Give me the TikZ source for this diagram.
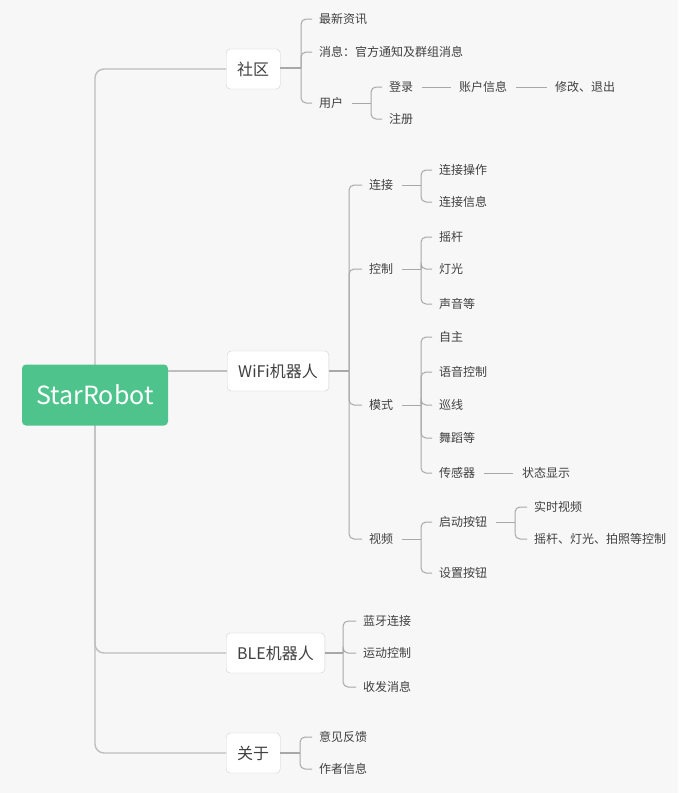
\documentclass[tikz,border=0pt]{standalone}
\usepackage{fontspec}
\setmainfont{Noto Sans CJK SC}
\usepackage{xcolor}
\usetikzlibrary{positioning}
\usetikzlibrary{calc}

\definecolor{bggray}{HTML}{F7F7F7}
\definecolor{linegray}{HTML}{A8A8A8}
\definecolor{trunkgray}{HTML}{BEBEBE}
\definecolor{boxline}{HTML}{CFCFCF}
\definecolor{textgray}{HTML}{404040}
\definecolor{rootgreen}{HTML}{4EC48C}

\tikzset{
  rootbox/.style={fill=rootgreen, text=white, rounded corners=4pt,
    minimum width=146pt, minimum height=61pt, inner sep=0pt,
    font=\fontsize{25}{28}\selectfont},
  mainbox/.style={draw=boxline, fill=white, rounded corners=4pt, anchor=west,
    minimum height=40pt, inner xsep=11pt, text=textgray,
    font=\fontsize{16}{18}\selectfont},
  leaf/.style={anchor=west, inner sep=0pt, text=textgray,
    font=\fontsize{12}{14}\selectfont},
  link/.style={draw=linegray, line width=1pt},
  elbow/.style={rounded corners=5pt},
  trunk/.style={draw=trunkgray, line width=1.4pt, rounded corners=9pt}
}

\begin{document}
\begin{tikzpicture}[x=1pt,y=-1pt]
\fill[bggray] (0,0) rectangle (678,793);
\useasboundingbox (0,0) rectangle (678,793);

% main branches
\node[mainbox] (shequ) at (226,69) {社区};
\node[mainbox] (wifi) at (227,371) {WiFi机器人};
\node[mainbox] (ble) at (226,653) {BLE机器人};
\node[mainbox] (guanyu) at (226,753) {关于};

% trunk
\coordinate (tk) at (95,0);
\draw[trunk] (shequ.west) -| (tk |- guanyu.west) -- (guanyu.west);
\draw[trunk] (tk |- wifi.west) |- (ble.west);
\node[rootbox] (root) at (95,395) {StarRobot};
\draw[trunk] (root.east |- wifi.west) -- (wifi.west);

% 社区
\node[leaf] (zuixin) at (319,19) {最新资讯};
\node[leaf] (xiaoxi) at (319,52) {消息：官方通知及群组消息};
\node[leaf] (yonghu) at (319,103) {用户};
\node[leaf] (denglu) at (389,87) {登录};
\node[leaf] (zhuce) at (389,119) {注册};
\node[leaf] (zhanghu) at (459,87) {账户信息};
\node[leaf] (xiugai) at (555,87) {修改、退出};

\coordinate (sqs) at (301,68);
\draw[link,line width=1.5pt] (shequ.east |- sqs) -- (sqs);
\foreach \c in {zuixin,xiaoxi,yonghu}
  \draw[link,elbow] (sqs) |- ([xshift=-7pt]\c.west);
\coordinate (yhs) at (371,103);
\draw[link] ([xshift=9pt]yonghu.east) -- (yhs);
\foreach \c in {denglu,zhuce}
  \draw[link,elbow] (yhs) |- ([xshift=-7pt]\c.west);
\draw[link] ([xshift=9pt]denglu.east) -- ([xshift=-8pt]zhanghu.west);
\draw[link] ([xshift=9pt]zhanghu.east) -- ([xshift=-8pt]xiugai.west);

% WiFi机器人
\node[leaf] (lianjie) at (369,185) {连接};
\node[leaf] (kongzhi) at (369,269) {控制};
\node[leaf] (moshi) at (369,405) {模式};
\node[leaf] (shipin) at (369,539) {视频};

\node[leaf] (ljcz) at (439,170) {连接操作};
\node[leaf] (ljxx) at (439,202) {连接信息};
\node[leaf] (yaogan) at (439,237) {摇杆};
\node[leaf] (dengguang) at (439,269) {灯光};
\node[leaf] (shengyin) at (439,304) {声音等};
\node[leaf] (zizhu) at (439,337) {自主};
\node[leaf] (yuyin) at (439,372) {语音控制};
\node[leaf] (xunxian) at (439,405) {巡线};
\node[leaf] (wudao) at (439,438) {舞蹈等};
\node[leaf] (chuangan) at (439,473) {传感器};
\node[leaf] (zhuangtai) at (522,473) {状态显示};
\node[leaf] (qidong) at (439,522) {启动按钮};
\node[leaf] (shezhi) at (439,573) {设置按钮};
\node[leaf] (shishi) at (534,507) {实时视频};
\node[leaf] (kzall) at (534,539) {摇杆、灯光、拍照等控制};

\coordinate (wfs) at (349,371);
\draw[link,line width=1.5pt] (wifi.east |- wfs) -- (wfs);
\foreach \c in {lianjie,kongzhi,moshi,shipin}
  \draw[link,elbow] (wfs) |- ([xshift=-7pt]\c.west);

\coordinate (ljs) at (421,185);
\draw[link] ([xshift=9pt]lianjie.east) -- (ljs);
\foreach \c in {ljcz,ljxx}
  \draw[link,elbow] (ljs) |- ([xshift=-7pt]\c.west);

\coordinate (kzs) at (421,269);
\draw[link] ([xshift=9pt]kongzhi.east) -- (kzs);
\foreach \c in {yaogan,dengguang,shengyin}
  \draw[link,elbow] (kzs) |- ([xshift=-7pt]\c.west);

\coordinate (mss) at (421,405);
\draw[link] ([xshift=9pt]moshi.east) -- (mss);
\foreach \c in {zizhu,yuyin,xunxian,wudao,chuangan}
  \draw[link,elbow] (mss) |- ([xshift=-7pt]\c.west);
\draw[link] ([xshift=9pt]chuangan.east) -- ([xshift=-9pt]zhuangtai.west);

\coordinate (sps) at (421,539);
\draw[link] ([xshift=9pt]shipin.east) -- (sps);
\foreach \c in {qidong,shezhi}
  \draw[link,elbow] (sps) |- ([xshift=-7pt]\c.west);

\coordinate (qds) at (515,522);
\draw[link] ([xshift=9pt]qidong.east) -- (qds);
\foreach \c in {shishi,kzall}
  \draw[link,elbow] (qds) |- ([xshift=-7pt]\c.west);

% BLE机器人
\node[leaf] (lanya) at (363,621) {蓝牙连接};
\node[leaf] (yundong) at (363,653) {运动控制};
\node[leaf] (shoufa) at (363,687) {收发消息};

\coordinate (bls) at (343,653);
\draw[link,line width=1.5pt] (ble.east |- bls) -- (bls);
\foreach \c in {lanya,yundong,shoufa}
  \draw[link,elbow] (bls) |- ([xshift=-7pt]\c.west);

% 关于
\node[leaf] (yijian) at (319,737) {意见反馈};
\node[leaf] (zuozhe) at (319,769) {作者信息};

\coordinate (gys) at (300,753);
\draw[link,line width=1.5pt] (guanyu.east |- gys) -- (gys);
\foreach \c in {yijian,zuozhe}
  \draw[link,elbow] (gys) |- ([xshift=-7pt]\c.west);
\end{tikzpicture}
\end{document}
